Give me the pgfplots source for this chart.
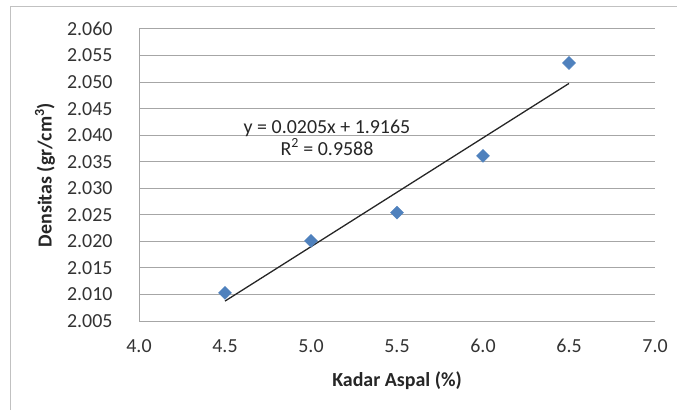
\documentclass[border=0pt]{standalone}
\usepackage{pgfplots}
\pgfplotsset{compat=1.18}
\usepackage{fontspec}
\setmainfont{Carlito}
\definecolor{excelblue}{HTML}{4F81BD}
\definecolor{gridgray}{HTML}{A6A6A6}
\begin{document}
\begin{tikzpicture}[x=1bp,y=1bp]
\useasboundingbox (0,0) rectangle (677,410);
\draw[gridgray!70, line width=1bp] (10,0) -- (10,403) -- (677,403);
\begin{axis}[
  at={(139bp,89bp)}, anchor=south west,
  scale only axis, width=516bp, height=292bp,
  xmin=4.0, xmax=7.0, ymin=2.005, ymax=2.060,
  xtick={4.0,4.5,...,7.0}, ytick={2.005,2.010,...,2.0601},
  /pgf/number format/assume math mode=true,
  xticklabel style={yshift=-15bp, /pgf/number format/fixed, /pgf/number format/fixed zerofill, /pgf/number format/precision=1},
  yticklabel style={xshift=-23bp, /pgf/number format/fixed, /pgf/number format/fixed zerofill, /pgf/number format/precision=3},
  tick label style={font=\fontsize{20}{23}\selectfont, text=black!80},
  ymajorgrids, grid style={gridgray, line width=1bp},
  axis x line*=bottom, axis y line*=left,
  x axis line style={draw=none},
  y axis line style={gridgray, line width=1bp},
  major tick length=0pt,
  xlabel={\textbf{Kadar Aspal (\%)}},
  ylabel={\textbf{Densitas (gr/cm\textsuperscript{3})}},
  label style={font=\fontsize{20}{22}\selectfont, text=black!85},
  xlabel style={at={(axis description cs:0.5,-0.205)}, anchor=center},
  ylabel style={at={(axis description cs:-0.182,0.5)}, anchor=center},
  clip=false,
]
\addplot[only marks, mark=square*, mark size=4.6bp, mark options={rotate=45, fill=excelblue, draw=excelblue}]
  coordinates {(4.5,2.0103) (5.0,2.0201) (5.5,2.0254) (6.0,2.0361) (6.5,2.0536)};
\addplot[black!85, line width=1.3bp] coordinates {(4.5,2.00875) (6.5,2.04975)};
\node[align=center, font=\fontsize{20}{22}\selectfont, text=black!85] at (axis cs:5.093,2.0395)
  {y = 0.0205x + 1.9165\\R\textsuperscript{2} = 0.9588};
\end{axis}
\end{tikzpicture}
\end{document}
